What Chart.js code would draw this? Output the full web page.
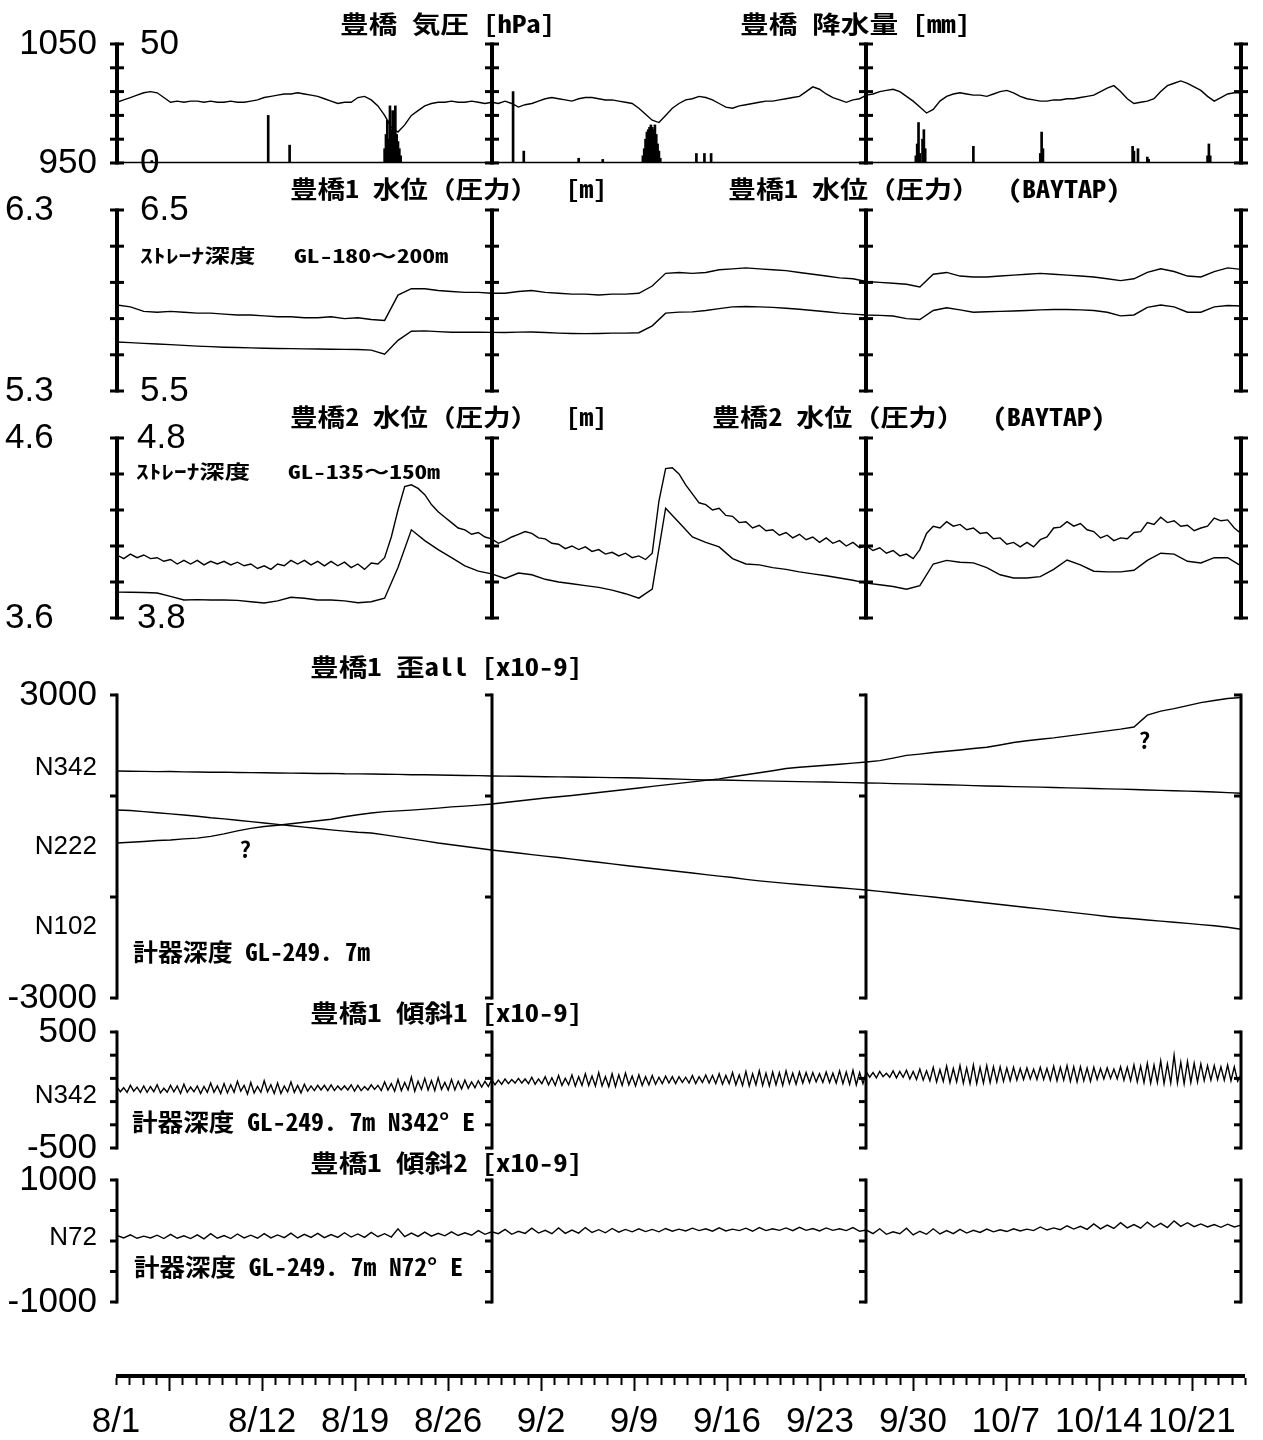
<!DOCTYPE html>
<html>
<head>
<meta charset="utf-8">
<script src="https://cdn.jsdelivr.net/npm/chart.js@4.4.0/dist/chart.umd.min.js"></script>
<style>
  body { margin: 0; background: #fff; }
  #wrap { position: relative; width: 1263px; height: 1440px; overflow: hidden; background: #fff; }
  canvas { position: absolute; left: 0; top: 0; }
  .t { position: absolute; white-space: pre; line-height: 1; color: #000; font-weight: 700;
       font-family: "Noto Sans Mono CJK JP", "Noto Sans CJK JP", sans-serif; transform-origin: 0 50%; }
</style>
</head>
<body>
<div id="wrap">
  <canvas id="c1" width="1263" height="1440"></canvas>
  <canvas id="c2" width="1263" height="1440"></canvas>
  <canvas id="c3" width="1263" height="1440"></canvas>
  <canvas id="c4" width="1263" height="1440"></canvas>
  <canvas id="c5" width="1263" height="1440"></canvas>
  <canvas id="c6" width="1263" height="1440"></canvas>
  <canvas id="c7" width="1263" height="1440"></canvas>
</div>
<script>
const W = 1263, H = 1440;

// day 0 = 8/1; panels are split every 28 days
const sepDays = [0, 28, 56, 84];

// 豊橋 気圧 [hPa], every 12 h from 8/1
const pressHpa = [
  1001,1003,1005,1007,1009,1010,1009,1005,1001,1002,
  1001,1002,1002,1001,1002,1001,1001,1002,1001,1001,
  1002,1003,1005,1006,1007,1008,1008,1009,1008,1007,
  1006,1004,1002,1000,1001,1001,1005,1006,1003,998,
  990,980,976,982,990,994,998,1000,1001,1001,
  1002,1001,1001,1002,1001,1000,1001,1000,1002,1000,
  997,999,1000,1002,1004,1005,1004,1003,1002,1004,
  1005,1005,1004,1003,1003,1002,1001,1000,996,991,
  986,984,990,996,1000,1003,1004,1006,1005,1003,
  1000,997,996,998,999,1000,1001,1002,1002,1003,
  1004,1005,1006,1010,1014,1012,1008,1005,1003,1001,
  1003,1004,1007,1008,1010,1011,1012,1010,1006,1002,
  997,992,995,1002,1006,1008,1009,1008,1007,1007,
  1006,1008,1010,1011,1009,1006,1004,1003,1002,1002,
  1003,1003,1004,1004,1005,1006,1007,1010,1013,1015,
  1010,1004,1000,1001,1002,1004,1010,1015,1017,1019,
  1017,1014,1011,1006,1002,1005,1008,1009,1009
];

// 豊橋 降水量 [mm]
const rainDay = [2.6, 11.3, 12.9, 20.0, 20.1, 20.2, 20.3, 20.4, 20.5, 20.6, 20.7, 20.8, 20.9, 21.0, 21.1, 21.2,
  29.6, 30.4, 34.5, 36.3, 39.3, 39.4, 39.5, 39.6, 39.7, 39.8, 39.9, 40.0, 40.1, 40.2, 40.3, 40.4, 40.5, 40.6,
  43.3, 43.9, 44.4, 59.7, 59.8, 59.9, 60.0, 60.2, 60.3, 60.4, 64.0, 69.0, 69.1, 69.2,
  75.9, 76.0, 76.3, 77.0, 77.1, 81.5, 81.6, 81.7];
const rainMm = [1, 20, 7.5, 6, 12, 18, 10, 24, 14, 22, 16, 24, 12, 9, 6, 3,
  30, 5, 2, 1.5, 3, 6, 10, 13, 14, 15, 16, 15, 14, 16, 12, 8, 5, 2,
  4, 4, 4, 3, 8, 17, 4, 10, 14, 6, 7, 4, 13, 6,
  7, 5, 6, 2.5, 1.5, 3, 8, 3];

// 豊橋1 水位 [m] (daily) and BAYTAP corrected (daily)
const wl1Raw = [
  5.775,5.765,5.74,5.735,5.74,5.735,5.73,5.73,5.725,5.72,
  5.72,5.715,5.71,5.71,5.705,5.705,5.71,5.70,5.705,5.695,
  5.69,5.83,5.865,5.865,5.855,5.85,5.845,5.845,5.84,5.84,
  5.85,5.855,5.845,5.84,5.835,5.835,5.83,5.835,5.835,5.84,
  5.88,5.95,5.955,5.95,5.955,5.97,5.975,5.98,5.975,5.97,
  5.965,5.955,5.945,5.935,5.925,5.92,5.905,5.90,5.895,5.89,
  5.875,5.945,5.955,5.935,5.93,5.93,5.935,5.94,5.945,5.95,
  5.945,5.94,5.935,5.93,5.92,5.91,5.92,5.955,5.975,5.96,
  5.935,5.93,5.96,5.98,5.972
];
const wl1Bay = [
  5.571,5.567,5.563,5.56,5.556,5.552,5.548,5.545,5.542,5.54,
  5.538,5.536,5.535,5.534,5.533,5.532,5.531,5.53,5.529,5.526,
  5.503,5.58,5.63,5.632,5.628,5.625,5.625,5.625,5.624,5.623,
  5.625,5.626,5.623,5.62,5.618,5.617,5.618,5.62,5.62,5.622,
  5.66,5.73,5.736,5.737,5.745,5.755,5.765,5.767,5.765,5.762,
  5.757,5.752,5.745,5.738,5.73,5.725,5.72,5.718,5.714,5.70,
  5.695,5.745,5.76,5.748,5.735,5.738,5.74,5.742,5.745,5.748,
  5.75,5.75,5.748,5.745,5.735,5.715,5.72,5.762,5.775,5.765,
  5.735,5.735,5.765,5.772,5.77
];

// 豊橋2 水位 [m] (every 12 h) and BAYTAP corrected (daily)
const wl2Raw = [
  3.95,3.93,3.955,3.935,3.95,3.93,3.935,3.915,3.925,3.9,
  3.92,3.9,3.92,3.895,3.915,3.9,3.915,3.895,3.91,3.89,
  3.9,3.875,3.89,3.87,3.9,3.89,3.92,3.9,3.92,3.895,
  3.915,3.89,3.915,3.89,3.91,3.88,3.9,3.87,3.905,3.9,
  3.935,4.05,4.2,4.33,4.34,4.32,4.285,4.23,4.19,4.16,
  4.13,4.1,4.09,4.065,4.075,4.05,4.04,4.015,4.03,4.05,
  4.065,4.08,4.07,4.045,4.04,4.015,4.01,3.985,4.0,3.98,
  3.995,3.97,3.98,3.955,3.965,3.945,3.96,3.935,3.945,3.925,
  3.96,4.25,4.43,4.435,4.4,4.34,4.29,4.24,4.23,4.2,
  4.21,4.17,4.165,4.13,4.135,4.1,4.115,4.085,4.09,4.06,
  4.075,4.045,4.065,4.035,4.05,4.02,4.045,4.015,4.03,4.0,
  4.02,3.99,4.0,3.975,3.99,3.96,3.975,3.945,3.955,3.93,
  3.98,4.07,4.11,4.1,4.135,4.11,4.12,4.09,4.1,4.07,
  4.075,4.04,4.045,4.01,4.02,3.995,4.02,3.995,4.035,4.05,
  4.1,4.105,4.135,4.11,4.125,4.09,4.08,4.045,4.06,4.03,
  4.045,4.04,4.075,4.08,4.13,4.12,4.16,4.13,4.14,4.11,
  4.115,4.085,4.1,4.11,4.155,4.14,4.145,4.1,4.07
];
const wl2Bay = [
  3.744,3.743,3.742,3.739,3.72,3.70,3.702,3.70,3.70,3.698,
  3.69,3.683,3.695,3.715,3.71,3.70,3.70,3.695,3.685,3.69,
  3.71,3.88,4.09,4.03,3.98,3.935,3.89,3.86,3.845,3.82,
  3.85,3.84,3.815,3.80,3.79,3.78,3.77,3.755,3.735,3.71,
  3.76,4.21,4.13,4.05,4.02,3.995,3.93,3.90,3.895,3.88,
  3.87,3.856,3.845,3.835,3.822,3.81,3.794,3.785,3.775,3.76,
  3.78,3.90,3.92,3.91,3.906,3.88,3.84,3.822,3.822,3.83,
  3.87,3.922,3.895,3.86,3.856,3.856,3.865,3.92,3.96,3.955,
  3.915,3.906,3.935,3.935,3.89
];

// 豊橋1 歪 [x10-9], daily, three components
const strainN342 = [
  1495,1490,1488,1482,1484,1478,1476,1470,1472,1465,
  1462,1460,1456,1453,1450,1446,1448,1440,1438,1436,
  1430,1428,1422,1420,1415,1412,1406,1403,1396,1394,
  1390,1386,1382,1378,1376,1372,1368,1364,1360,1357,
  1350,1342,1335,1325,1318,1316,1312,1305,1300,1294,
  1290,1285,1280,1276,1270,1264,1258,1254,1246,1240,
  1236,1228,1222,1216,1206,1198,1192,1186,1180,1175,
  1168,1160,1155,1148,1142,1136,1128,1120,1112,1104,
  1096,1088,1078,1066,1055
];
const strainN222 = [
  723,712,690,668,645,624,600,570,548,520,
  492,466,438,410,384,356,330,305,282,266,
  230,190,150,112,70,36,0,-36,-69,-100,
  -130,-160,-190,-218,-250,-282,-312,-345,-376,-406,
  -435,-466,-495,-525,-556,-586,-615,-650,-680,-705,
  -730,-752,-775,-798,-818,-840,-861,-888,-915,-945,
  -972,-1000,-1030,-1060,-1090,-1118,-1148,-1178,-1208,-1236,
  -1265,-1295,-1325,-1355,-1385,-1410,-1432,-1455,-1478,-1500,
  -1522,-1546,-1570,-1600,-1640
];
const strainN102 = [
  70,85,100,118,130,150,165,200,250,310,
  360,395,420,450,480,510,540,590,630,664,
  690,705,720,740,760,785,800,820,842,870,
  900,930,960,985,1010,1040,1070,1100,1130,1159,
  1190,1220,1250,1280,1310,1340,1380,1420,1460,1500,
  1545,1570,1590,1610,1630,1650,1673,1700,1750,1805,
  1830,1860,1885,1910,1940,1965,2010,2060,2095,2125,
  2150,2185,2220,2255,2290,2325,2366,2600,2680,2730,
  2790,2850,2890,2930,2950
];
// "?" notes on the strain plot
const qDays = [9.6, 76.8];
const qVals = [-60, 2100];

// 豊橋1 傾斜1 [x10-9], every 6 h
const tilt1 = [
  25,-15,20,-20, 40,-10,25,-20, 35,-20,30,-15, 45,-25,15,-20, 40,-15,35,-30,
  50,-20,25,-15, 35,-30,30,-20, 60,-20,35,-30, 55,-25,45,-20, 75,-10,40,-35,
  65,-25,30,-20, 80,-15,45,-30, 60,-30,35,-15, 70,-20,40,-25, 50,-10,35,-5,
  40,0,40,-5, 45,-5,35,0, 35,0,45,-10, 40,-5,30,0, 45,5,40,-5,
  70,0,55,-10, 90,-5,65,0, 110,-10,75,5, 100,0,80,-5, 105,5,65,0,
  90,0,75,10, 85,15,70,20, 80,25,75,30, 90,45,85,50, 95,55,90,60,
  100,60,95,55, 110,50,95,55, 115,45,105,40, 125,40,100,45, 130,35,115,40,
  140,40,120,35, 150,35,115,30, 140,30,130,40, 145,45,120,35, 130,40,115,45,
  125,50,110,55, 120,60,115,55, 115,65,110,60, 125,55,115,65, 130,60,125,55,
  140,50,125,55, 150,45,130,40, 160,35,140,45, 165,40,145,35, 155,45,150,40,
  165,55,145,50, 155,60,150,65, 150,70,140,65, 155,65,145,60, 165,55,155,50,
  170,45,150,55, 155,110,150,105, 160,115,145,110, 165,105,160,110, 170,95,160,90,
  180,85,165,80, 195,70,175,75, 205,65,185,70, 210,60,190,55, 215,55,195,60,
  210,65,200,70, 200,75,190,80, 195,85,185,90, 190,95,180,90, 195,90,185,85,
  205,80,195,85, 210,75,200,70, 200,80,190,75, 195,90,185,95, 190,100,180,95,
  200,85,195,80, 215,70,205,65, 230,60,215,65, 250,55,225,60, 300,60,240,55,
  245,65,230,70, 225,80,210,85, 210,90,200,85, 215,80,200,75,
  130
];

// 豊橋1 傾斜2 [x10-9], every 12 h
const tilt2 = [
  90,50, 100,45, 80,50, 95,40, 110,45, 85,40, 100,35, 120,45, 90,40, 115,50,
  95,45, 120,50, 100,55, 130,50, 110,60, 125,55, 105,60, 135,65, 115,60, 140,70,
  120,65, 200,70, 130,75, 145,80, 125,85, 150,90, 135,95, 170,110, 150,120, 190,110,
  160,125, 210,130, 175,120, 215,125, 180,130, 220,140, 185,135, 205,145, 190,150, 200,155,
  190,150, 205,160, 195,165, 210,170, 200,160, 215,165, 195,170, 210,160, 220,170, 200,175,
  215,170, 225,175, 205,165, 215,175, 200,170, 220,160, 180,120, 200,110, 150,120, 210,100,
  160,110, 200,115, 170,120, 190,130, 175,140, 195,150, 185,155, 200,165, 195,170, 230,180,
  215,185, 250,195, 240,190, 280,200, 260,205, 300,215, 270,210, 310,225, 290,220, 330,240,
  300,235, 280,230, 270,225, 275,230,
  260
];

// tick values and labels
const pressTickVals = [950, 1050];
const rainTickVals = [0, 50];
const wl1TickVals = [5.3, 6.3];
const wl1BayTickVals = [5.5, 6.5];
const wl2TickVals = [3.6, 4.6];
const wl2BayTickVals = [3.8, 4.8];
const strainTickVals = [3000, 1550, 0, -1600, -3000];
const strainTickLabels = ['3000', 'N342', 'N222', 'N102', '-3000'];
const tilt1TickVals = [500, -50, -500];
const tilt1TickLabels = ['500', 'N342', '-500'];
const tilt2TickVals = [1000, 50, -1000];
const tilt2TickLabels = ['1000', 'N72', '-1000'];

const dateLabelDays = [0, 11, 18, 25, 32, 39, 46, 53, 60, 67, 74, 81];
const dateLabels = ['8/1', '8/12', '8/19', '8/26', '9/2', '9/9', '9/16', '9/23', '9/30', '10/7', '10/14', '10/21'];
const majorTickDays = [4, 11, 18, 25, 32, 39, 46, 53, 60, 67, 74, 81];

const SANS = "'Liberation Sans', Arial, sans-serif";
const bigFont = { family: SANS, size: 35 };
const smallFont = { family: SANS, size: 26 };

function series(vals, step) {
  return vals.map((v, i) => ({ x: i * step, y: v }));
}

function lineSet(data, axis) {
  return { type: 'line', data, yAxisID: axis || 'y', borderColor: '#000', borderWidth: 1.4,
           pointRadius: 0, fill: false, tension: 0, spanGaps: false };
}

function yAxis(min, max, vals, labels, o) {
  o = o || {};
  return {
    type: 'linear', position: 'left', min, max, weight: o.weight === undefined ? 1 : o.weight,
    grid: { display: false, drawTicks: false }, border: { display: false },
    afterBuildTicks: s => { s.ticks = vals.map(v => ({ value: v })); },
    afterFit: s => { s.width = o.width === undefined ? 112 : o.width; },
    ticks: {
      autoSkip: false, color: '#000', padding: o.padding === undefined ? 20 : o.padding,
      mirror: !!o.mirror, crossAlign: o.crossAlign || 'near',
      callback: (v, i) => labels ? labels[i] : (o.fixed ? v.toFixed(o.fixed) : String(v)),
      font: c => (c.tick && String(c.tick.label).charAt(0) === 'N') ? smallFont : bigFont
    }
  };
}

// vertical axis brackets with ticks, drawn at the panel split days
const bracketPlugin = {
  id: 'brackets',
  afterDraw(chart, args, o) {
    const { ctx, chartArea: a, scales } = chart;
    const x = scales.x, y = scales.y;
    ctx.save();
    ctx.strokeStyle = '#000';
    ctx.fillStyle = '#000';
    if (o.zeroAxis) {
      const z = scales[o.zeroAxis].getPixelForValue(0) - 0.5;
      ctx.lineWidth = 1.5;
      ctx.beginPath(); ctx.moveTo(x.getPixelForValue(0), z); ctx.lineTo(x.getPixelForValue(84), z); ctx.stroke();
    }
    for (const d of sepDays) {
      const px = Math.round(x.getPixelForValue(d));
      ctx.lineWidth = o.style === 'I' ? 4 : 3;
      ctx.beginPath(); ctx.moveTo(px, a.top - 1.5); ctx.lineTo(px, a.bottom + 1.5); ctx.stroke();
      ctx.lineWidth = 3;
      for (let i = 0; i <= o.n; i++) {
        const py = y.getPixelForValue(y.min + (y.max - y.min) * i / o.n);
        ctx.beginPath();
        ctx.moveTo(px - 7, py);
        ctx.lineTo(o.style === 'I' ? px + 7 : px, py);
        ctx.stroke();
      }
    }
    if (o.qDays) {
      ctx.font = "700 22px 'Noto Sans CJK JP', sans-serif";
      ctx.textAlign = 'center';
      ctx.textBaseline = 'middle';
      o.qDays.forEach((d, i) => ctx.fillText('?', x.getPixelForValue(d), y.getPixelForValue(o.qVals[i])));
    }
    ctx.restore();
  }
};

Chart.defaults.animation = false;
Chart.defaults.responsive = false;
Chart.defaults.events = [];
Chart.defaults.plugins.legend.display = false;
Chart.defaults.plugins.tooltip.enabled = false;

function panel(id, top, bottom, datasets, yScales, bracket) {
  const scales = Object.assign({
    x: { type: 'linear', min: 0, max: 84, display: false, offset: false }
  }, yScales);
  return new Chart(document.getElementById(id), {
    type: 'line',
    data: { datasets },
    options: {
      layout: { padding: { left: 5, right: W - 1241, top, bottom: H - bottom } },
      scales,
      plugins: { brackets: bracket }
    },
    plugins: [bracketPlugin]
  });
}

// 1: pressure + rain
panel('c1', 43, 163, [
  lineSet(series(pressHpa, 0.5), 'y'),
  { type: 'bar', data: rainDay.map((d, i) => ({ x: d, y: rainMm[i] })), yAxisID: 'y2',
    backgroundColor: '#000', borderWidth: 0, barThickness: 2 }
], {
  y: yAxis(950, 1050, pressTickVals, null, {}),
  y2: yAxis(0, 50, rainTickVals, null, { mirror: true, width: 0, weight: 0, padding: 23 })
}, { style: 'I', n: 5, zeroAxis: 'y2' });

// 2: well 1
panel('c2', 210, 391, [
  lineSet(series(wl1Raw, 1)),
  lineSet(series(wl1Bay, 1))
], {
  y: yAxis(5.3, 6.3, wl1TickVals, null, { fixed: 1, crossAlign: 'far' }),
  y2: yAxis(5.5, 6.5, wl1BayTickVals, null, { fixed: 1, mirror: true, width: 0, weight: 0, padding: 23 })
}, { style: 'I', n: 5 });

// 3: well 2
panel('c3', 438, 618, [
  lineSet(series(wl2Raw, 0.5)),
  lineSet(series(wl2Bay, 1))
], {
  y: yAxis(3.6, 4.6, wl2TickVals, null, { fixed: 1, crossAlign: 'far' }),
  y2: yAxis(3.8, 4.8, wl2BayTickVals, null, { fixed: 1, mirror: true, width: 0, weight: 0, padding: 20 })
}, { style: 'I', n: 5 });

// 4: strain
panel('c4', 695, 998, [
  lineSet(series(strainN342, 1)),
  lineSet(series(strainN222, 1)),
  lineSet(series(strainN102, 1))
], {
  y: yAxis(-3000, 3000, strainTickVals, strainTickLabels, {})
}, { style: ']', n: 3, qDays, qVals });

// 5: tilt 1
panel('c5', 1032, 1148, [
  lineSet(series(tilt1, 0.25))
], {
  y: yAxis(-500, 500, tilt1TickVals, tilt1TickLabels, {})
}, { style: ']', n: 5 });

// 6: tilt 2
panel('c6', 1180, 1302, [
  lineSet(series(tilt2, 0.5))
], {
  y: yAxis(-1000, 1000, tilt2TickVals, tilt2TickLabels, {})
}, { style: ']', n: 4 });

// 7: date axis
const dateAxisPlugin = {
  id: 'dateAxis',
  afterDraw(chart) {
    const { ctx, chartArea: a, scales: { x } } = chart;
    ctx.save();
    ctx.strokeStyle = '#000';
    ctx.lineWidth = 4;
    ctx.beginPath(); ctx.moveTo(a.left, a.bottom - 2); ctx.lineTo(a.right, a.bottom - 2); ctx.stroke();
    ctx.lineWidth = 2;
    for (let d = 0; d <= x.max; d++) {
      const px = Math.round(x.getPixelForValue(d)) + 0.5;
      const len = majorTickDays.includes(d) ? 13 : 7;
      ctx.beginPath(); ctx.moveTo(px, a.bottom); ctx.lineTo(px, a.bottom + len); ctx.stroke();
    }
    ctx.restore();
  }
};
new Chart(document.getElementById('c7'), {
  type: 'line',
  data: { datasets: [] },
  options: {
    layout: { padding: { left: 116, right: W - 1245, top: 1370, bottom: 0 } },
    scales: {
      x: {
        type: 'linear', min: 0, max: 85, position: 'bottom',
        grid: { display: false, drawTicks: false }, border: { display: false },
        afterBuildTicks: s => { s.ticks = dateLabelDays.map(v => ({ value: v })); },
        afterFit: s => { s.height = 62; },
        ticks: { autoSkip: false, maxRotation: 0, padding: 23, color: '#000', font: bigFont,
                 callback: (v, i) => dateLabels[i] }
      },
      y: { display: false, min: 0, max: 1 }
    }
  },
  plugins: [dateAxisPlugin]
});

// titles and notes
const texts = [
  ['豊橋 気圧 [hPa]', 340, 24, 215, 24],
  ['豊橋 降水量 [mm]', 740, 24, 230, 24],
  ['豊橋1 水位（圧力）  [m]', 290, 189, 317, 24],
  ['豊橋1 水位（圧力）  (BAYTAP)', 728, 189, 392, 24],
  ['豊橋2 水位（圧力）  [m]', 290, 417, 317, 24],
  ['豊橋2 水位（圧力）  (BAYTAP)', 712, 417, 393, 24],
  ['豊橋1 歪all [x10-9]', 310, 667, 272, 24],
  ['豊橋1 傾斜1 [x10-9]', 310, 1013, 272, 24],
  ['豊橋1 傾斜2 [x10-9]', 310, 1163, 272, 24],
  ['ｽﾄﾚｰﾅ深度   GL-180～200m', 140, 256, 308, 19],
  ['ｽﾄﾚｰﾅ深度   GL-135～150m', 136, 472, 304, 19],
  ['計器深度 GL-249. 7m', 133, 952, 237, 24],
  ['計器深度 GL-249. 7m N342° E', 132, 1122, 343, 24],
  ['計器深度 GL-249. 7m N72° E', 134, 1267, 329, 24]
];
const wrap = document.getElementById('wrap');
for (const [t, left, cy, w, size] of texts) {
  const d = document.createElement('div');
  d.className = 't';
  d.textContent = t;
  d.style.fontSize = size + 'px';
  d.style.left = left + 'px';
  d.style.top = (cy - size * 0.56) + 'px';
  wrap.appendChild(d);
  const k = w / d.getBoundingClientRect().width;
  d.style.transform = 'scaleX(' + k.toFixed(3) + ')';
}
</script>
</body>
</html>
